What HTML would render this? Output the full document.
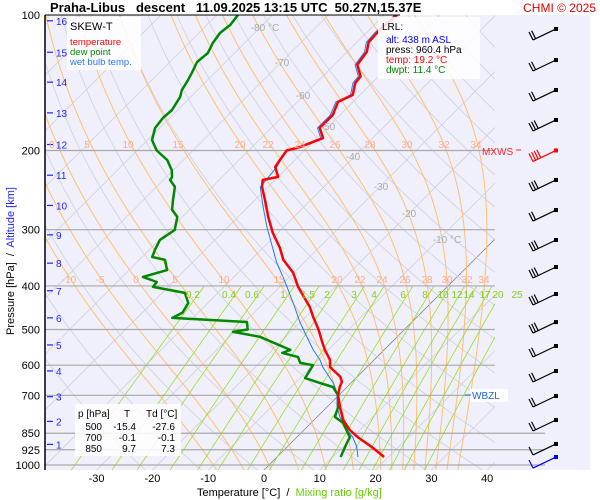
<!DOCTYPE html>
<html><head><meta charset="utf-8"><style>
body{margin:0;background:#fff}
svg{display:block;font-family:"Liberation Sans",sans-serif}
</style></head><body>
<svg id="c" width="600" height="500" viewBox="0 0 600 500" xmlns="http://www.w3.org/2000/svg">
<rect x="45" y="15" width="545" height="455" fill="#f0f0fc"/>
<defs><clipPath id="cp"><rect x="45" y="15" width="450" height="455"/></clipPath></defs>
<g id="bg" clip-path="url(#cp)"></g>
<g id="iso"></g>
<g id="series" clip-path="url(#cp)"></g>
<g id="labels"></g>
<g id="barbs"></g>
<line x1="45" y1="15" x2="45" y2="470" stroke="#000" stroke-width="1.5"/>
<line x1="45" y1="15" x2="400" y2="15" stroke="#000" stroke-width="1"/>
<text x="50" y="12" font-size="13" font-weight="bold" xml:space="preserve">Praha-Libus   descent   11.09.2025 13:15 UTC  50.27N,15.37E</text>
<text x="596" y="12" font-size="12" fill="#e00000" text-anchor="end">CHMI © 2025</text>
<g>
<rect x="67" y="17" width="74" height="53" fill="#fff" opacity="0.85"/>
<text x="70" y="30" font-size="11">SKEW-T</text>
<text x="70" y="45" font-size="9.5" fill="#ff0000">temperature</text>
<text x="70" y="55" font-size="9.5" fill="#008800">dew point</text>
<text x="70" y="65" font-size="9.5" fill="#2277ff">wet bulb temp.</text>
</g>
<g>
<rect x="378" y="17" width="102" height="62" fill="#fff" opacity="0.85"/>
<text x="382" y="30" font-size="10">LRL:</text>
<text x="386" y="43" font-size="10" fill="#0000ff">alt: 438 m ASL</text>
<text x="386" y="53" font-size="10">press: 960.4 hPa</text>
<text x="386" y="63" font-size="10" fill="#ff0000">temp: 19.2 °C</text>
<text x="386" y="73" font-size="10" fill="#008800">dwpt: 11.4 °C</text>
</g>
<g font-size="10">
<rect x="75" y="404" width="106" height="52" fill="#fff" opacity="0.85"/>
<text x="78" y="417">p [hPa]</text><text x="124" y="417">T</text><text x="146" y="417">Td [°C]</text>
<text x="102" y="430" text-anchor="end">500</text><text x="136" y="430" text-anchor="end">-15.4</text><text x="175" y="430" text-anchor="end">-27.6</text>
<text x="102" y="441" text-anchor="end">700</text><text x="136" y="441" text-anchor="end">-0.1</text><text x="175" y="441" text-anchor="end">-0.1</text>
<text x="102" y="452" text-anchor="end">850</text><text x="136" y="452" text-anchor="end">9.7</text><text x="175" y="452" text-anchor="end">7.3</text>
</g>
<g>
<rect x="470" y="389" width="38" height="13" fill="#fff" opacity="0.85"/>
<line x1="465" y1="395" x2="471" y2="395" stroke="#2266dd"/>
<text x="472" y="399" font-size="10" fill="#2266dd">WBZL</text>
</g>
<g>
<text x="482" y="155" font-size="10" fill="#ff2222">MXWS</text>
<line x1="516" y1="150" x2="521" y2="150" stroke="#ff2222"/>
</g>
<text x="197" y="496" font-size="11" xml:space="preserve">Temperature [°C]  /  <tspan fill="#66cc00">Mixing ratio [g/kg]</tspan></text>
<text transform="translate(14,335) rotate(-90)" font-size="11" xml:space="preserve">Pressure [hPa]  /  <tspan fill="#2222ff">Altitude [km]</tspan></text>
</svg>
<script>
// ---- data ----
const tempP=[100,109.6,115,120.8,129,137,141.6,150.6,156,166.8,178.3,187.7,196.5,200,210,217.6,229,232.6,241,257.7,281,305,329.6,350,374,402,445.6,469,500,533,555,584,606,637,654,671,700,743,794,836,867,912,960];
const tempT=[-57.7,-58.1,-57.9,-56.5,-55.9,-53.2,-53.0,-51.3,-52.7,-51.3,-51.3,-48.9,-51.4,-53.2,-52.7,-52.3,-50.0,-52.2,-51.1,-48.2,-44.6,-40.9,-36.9,-34.2,-30.1,-26.7,-21.0,-18.6,-15.4,-12.5,-10.6,-7.9,-6.6,-3.0,-1.8,-1.3,-0.1,2.3,5.2,8.2,10.9,15.2,19.2];
const dewP=[100,105.2,109.6,115.4,121.4,127.2,134.5,139.5,146.8,152,162.6,169.4,178.3,189.6,200,210,221,229,232.6,241,257.7,271,281,300.5,316,332.6,345,350,368.8,382,392,402,414.6,436.5,459,471,481,500,506,519,555,563.6,575,593,600,641,657,671,700,743,782,806,867,893,960];
const dewT=[-86.2,-85.8,-86.2,-85.7,-84.8,-85.1,-84.1,-83.5,-82.8,-81.9,-81.0,-81.2,-80.8,-79.2,-76.5,-72.9,-70.3,-69.0,-68.8,-66.7,-64.7,-63.1,-60.9,-59.0,-59.9,-59.0,-58.2,-55.4,-53.2,-56.3,-52.9,-52.7,-45.9,-43.5,-42.8,-43.7,-29.6,-28.1,-30.3,-24.6,-16.8,-17.7,-14.2,-12.7,-10.0,-9.1,-5.6,-2.5,-0.1,2.0,3.2,5.7,9.5,10.0,11.4];
const wbP=[100,109.6,115,120.8,129,137,141.6,150.6,156,166.8,178.3,187.7,196.5,201.5,217.6,241,267,296,329.6,355.7,382,402,436.5,481,509,555,584,606,657,692,743,782,836,867,912,960];
const wbT=[-58.1,-58.5,-58.3,-56.9,-56.3,-53.6,-53.4,-51.7,-53.1,-51.7,-51.7,-49.3,-51.8,-53.2,-52.0,-51.4,-47.3,-43.0,-38.2,-34.8,-31.2,-28.7,-24.7,-20.1,-17.2,-12.7,-9.7,-7.9,-3.2,-0.7,1.8,4.1,7.7,10.0,12.5,14.5];
const isobarLevels=[200,300,400,500,600,700,850,925,1000];
const pLabels=["100","200","300","400","500","600","700","850","925","1000"];
const pLabelVals=[100,200,300,400,500,600,700,850,925,1000];
const tTicks=[-30,-20,-10,0,10,20,30,40];
const altKm=[1,2,3,4,5,6,7,8,9,10,11,12,13,14,15,16];
const altP=[900,800,705,618,541,471,410,356,308,265,227,194,165,141,121,103];
const barbP=[107.4,125.9,146.8,171.1,200,232.6,271.3,316.2,363.1,416.9,481.3,543.9,618.2,702.5,794.3,898,960];
const barbN=[2,2,2,3,4,3,2,3,3,3,3,2,2,2,2,1,1];
// ---- scales ----
const Y=p=>15+450*Math.log10(p/100);
const X=(t,p)=>264+5.58*t+(470-Y(p));
const NS='http://www.w3.org/2000/svg';
function mk(tag,attrs,parent){const e=document.createElementNS(NS,tag);for(const k in attrs)e.setAttribute(k,attrs[k]);parent.appendChild(e);return e;}
const bg=document.getElementById('bg'),iso=document.getElementById('iso'),ser=document.getElementById('series'),lab=document.getElementById('labels'),bb=document.getElementById('barbs');
function path(pts){return pts.map((q,i)=>(i?'L':'M')+q[0].toFixed(1)+','+q[1].toFixed(1)).join('');}
// isotherms
for(let t=-160;t<=40;t+=10){const e=mk('line',{x1:X(t,1050),y1:Y(1050),x2:X(t,100),y2:Y(100),stroke:t==0?'#888':'#d0d0d8','stroke-width':0.8},bg);

}
// dry adiabats
for(let th=250;th<=560;th+=10){const pts=[];for(let p=1050;p>=100;p-=10){pts.push([X(th*Math.pow(p/1000,0.286)-273.15,p),Y(p)]);}
const e=mk('path',{d:path(pts),fill:'none',stroke:'#d0d0d8','stroke-width':0.8},bg);

}
// moist adiabats
function es(t){return 6.112*Math.exp(17.67*t/(t+243.5));}
function dTdp(T,p){const t=T-273.15;const rs=0.622*es(t)/(p-es(t));return (287*T+2.5e6*rs)/(1005+(2.5e6*2.5e6*rs*0.622)/(287*T*T))/p;}
[-10,-5,0,5,10,15,20,22,24,26,28,30,32,34].forEach(tw=>{let T=tw+273.15;const pts=[[X(tw,1000),Y(1000)]];
for(let p=1000;p>100;p-=5){T-=dTdp(T,p)*5;pts.push([X(T-273.15,p-5),Y(p-5)]);}
let T2=tw+273.15;const low=[];for(let p=1000;p<1050;p+=5){T2+=dTdp(T2,p)*5;low.unshift([X(T2-273.15,p+5),Y(p+5)]);}
const e=mk('path',{d:path(low.concat(pts)),fill:'none',stroke:'#ffc070','stroke-width':1},bg);

});
// mixing ratio
[0.2,0.4,0.6,1,1.5,2,3,4,6,8,10,12,14,17,20,25].forEach(w=>{const pts=[];for(let p=1050;p>=400;p-=10){const e=w*p/(622+w);const l=Math.log(e/6.112);const td=243.5*l/(17.67-l);pts.push([X(td,p),Y(p)]);}
const e=mk('path',{d:path(pts),fill:'none',stroke:'#99dd22','stroke-width':0.8},bg);

});
// isobars
isobarLevels.forEach(p=>{const e=mk('line',{x1:45,y1:Y(p),x2:p>=850?545:495,y2:Y(p),stroke:'#a8a8a8','stroke-width':1.2},iso);

});
// pressure labels
pLabels.forEach((s,i)=>{const e=mk('text',{x:40,y:Y(pLabelVals[i])+4,'font-size':11,'text-anchor':'end'},lab);e.textContent=s;

});
// temperature ticks
tTicks.forEach(t=>{const e=mk('text',{x:264+5.58*t,y:482,'font-size':11,'text-anchor':'middle'},lab);e.textContent=t;

});
// altitude
altKm.forEach((k,i)=>{const y=Y(altP[i]);const l=mk('line',{x1:47,y1:y,x2:53,y2:y,stroke:'#2222ff','stroke-width':1.2},lab);


const e=mk('text',{x:56,y:y+4,'font-size':10,fill:'#2222ff'},lab);e.textContent=k;

});
// static background labels
function tl(x,y,s,c,n){const e=mk('text',{x:x,y:y,'font-size':10,fill:c,'text-anchor':'middle'},lab);e.textContent=s;

}
[[265,31,'-80 °C'],[282,66,'-70'],[303,99,'-60'],[328,130,'-50'],[353,160,'-40'],[381,190,'-30'],[409,217,'-20'],[447,243,'-10 °C']].forEach(a=>tl(a[0],a[1],a[2],'#aaaaaa','isotherm-label'));
[[52,'0'],[87,'5'],[128,'10'],[178,'15'],[240,'20'],[268,'22'],[300,'24'],[335,'26'],[370,'28'],[407,'30'],[444,'32'],[476,'34']].forEach(a=>tl(a[0],148,a[1],'#ffaa88','moist-adiabat-label'));
[[69,'-10'],[100,'-5'],[136,'0'],[175,'5'],[224,'10'],[279,'15'],[337,'20'],[360,'22'],[382,'24'],[405,'26'],[427,'28'],[447,'30'],[467,'32'],[484,'34']].forEach(a=>tl(a[0],283,a[1],'#ffaa88','moist-adiabat-label'));
[[193,'0.2'],[229,'0.4'],[252,'0.6'],[283,'1'],[308,'1.5'],[327,'2'],[354,'3'],[374,'4'],[403,'6'],[425,'8'],[443,'10'],[457,'12'],[469,'14'],[485,'17'],[498,'20'],[517,'25']].forEach(a=>tl(a[0],298,a[1],'#88cc22','mixing-ratio-label'));
// series
function line(P,T,col,w,name){const pts=P.map((p,i)=>[X(T[i],p),Y(p)]);const e=mk('path',{d:path(pts),fill:'none',stroke:col,'stroke-width':w,'stroke-linejoin':'round'},ser);

}
line(wbP,wbT,'#2277ff',1,'wet-bulb-line');
line(dewP,dewT,'#008800',2.5,'dew-point-line');
line(tempP,tempT,'#ff0000',2.5,'temperature-line');
// wind barbs
barbP.forEach((p,i)=>{const y=Y(p);const col=i==16?'#0000ff':(i==4?'#ff0000':'#000');const g=mk('g',{stroke:col,'stroke-width':1.2,fill:'none'},bb);


mk('line',{x1:556,y1:y,x2:533,y2:y+11},g);mk('rect',{x:554,y:y-2,width:4,height:4,fill:col,stroke:'none'},g);
for(let k=0;k<barbN[i];k++){const bx=533+k*2.6,by=y+11-k*1.25;mk('line',{x1:bx,y1:by,x2:bx-4,y2:by-8},g);}});
</script>
</body></html>
